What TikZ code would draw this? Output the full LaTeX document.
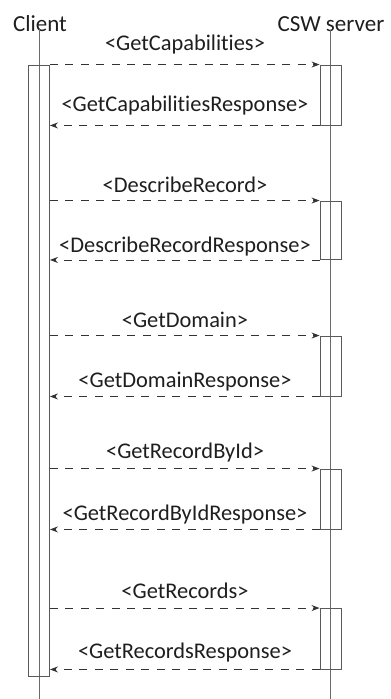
\documentclass[tikz,border=0pt]{standalone}
\usepackage{fontspec}
\setmainfont{Carlito}[Ligatures={NoCommon}]
\usetikzlibrary{arrows.meta}
\definecolor{lifegray}{HTML}{6A6A6A}
\definecolor{boxgray}{HTML}{5A5A5A}
\definecolor{arrgray}{HTML}{333333}
\definecolor{txt}{HTML}{1E1E1E}
\tikzset{
  lifeline/.style={draw=lifegray, line width=0.9pt},
  actbox/.style={draw=boxgray, line width=0.9pt, rectangle, inner sep=0pt},
  msg/.style={draw=arrgray, line width=0.9pt, dash pattern=on 8pt off 7.5pt, -{Stealth[length=8pt,width=6pt]}},
  title/.style={anchor=base, inner sep=0pt, text=txt, font=\fontsize{23}{27}\selectfont},
  lbl/.style={anchor=base, inner sep=0pt, text=txt, font=\fontsize{22.4}{26}\selectfont}
}
\begin{document}
\begin{tikzpicture}[x=1pt,y=-1pt]
\useasboundingbox (0,0) rectangle (391,699);
% titles
\node[title] (client) at (40,31.5) {Client};
\node[title] (server) at (331,31.5) {CSW server};
% lifelines
\coordinate (cltop) at (39.5,28);
\coordinate (clbot) at (39.5,699);
\coordinate (svtop) at (330.5,30);
\coordinate (svbot) at (330.5,699);
\draw[lifeline] (cltop) -- (clbot);
\draw[lifeline] (svtop) -- (svbot);
% client activation
\node[actbox, minimum width=21pt, minimum height=611pt] (cbox) at (39,370.5) {};
% server activations
\node[actbox, minimum width=21pt, minimum height=60pt] (s1) at (330.5,95) {};
\node[actbox, minimum width=21pt, minimum height=58.5pt] (s2) at (330.5,230.25) {};
\node[actbox, minimum width=21pt, minimum height=60pt] (s3) at (330.5,366) {};
\node[actbox, minimum width=21pt, minimum height=60pt] (s4) at (330.5,499) {};
\node[actbox, minimum width=21pt, minimum height=60.5pt] (s5) at (330.5,638.75) {};
% messages
\foreach \s/\req/\rsp/\ry/\sy in {
  s1/{<GetCapabilities>}/{<GetCapabilitiesResponse>}/50/111,
  s2/{<DescribeRecord>}/{<DescribeRecordResponse>}/192/252,
  s3/{<GetDomain>}/{<GetDomainResponse>}/327/387,
  s4/{<GetRecordById>}/{<GetRecordByIdResponse>}/458.5/520,
  s5/{<GetRecords>}/{<GetRecordsResponse>}/598/658.5}{
  \draw[msg] (cbox.east |- \s.north west) -- (\s.north west);
  \draw[msg] (\s.south west) -- (cbox.east |- \s.south west);
  \node[lbl] (\s req) at (185,\ry) {\req};
  \node[lbl] (\s rsp) at (185,\sy) {\rsp};
}
\end{tikzpicture}
\end{document}
